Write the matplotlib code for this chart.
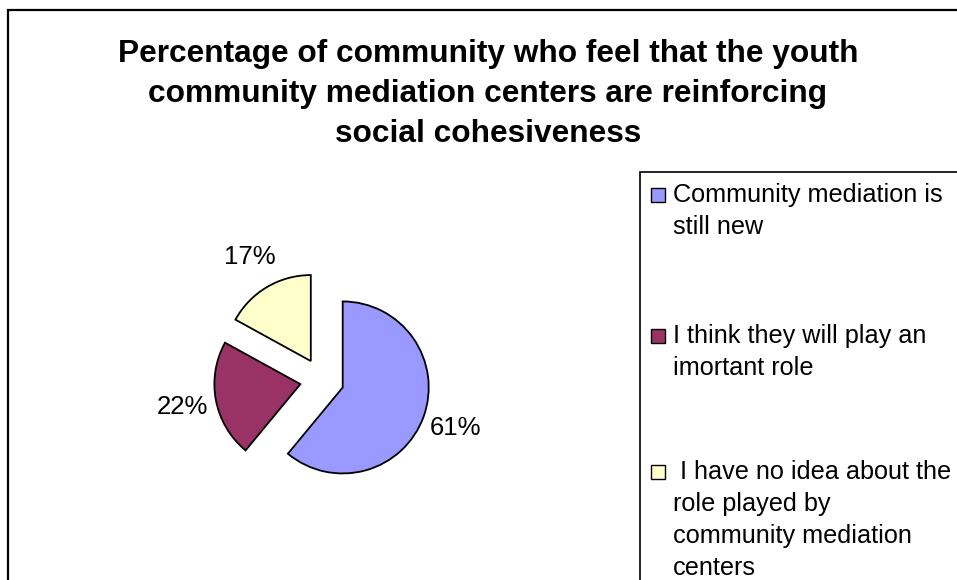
import matplotlib
matplotlib.use("Agg")
import matplotlib.pyplot as plt
from matplotlib.patches import Rectangle

plt.rcParams["font.family"] = ["Liberation Sans", "DejaVu Sans"]

# ---- data ----
categories = [
    "Community mediation is\nstill new",
    "I think they will play an\nimortant role",
    " I have no idea about the\nrole played by\ncommunity mediation\ncenters",
]
shares = [61, 22, 17]
colors = ["#9999FF", "#993366", "#FFFFCC"]
title_lines = [
    "Percentage of community who feel that the youth",
    "community mediation centers are reinforcing",
    "social cohesiveness",
]

W, H = 957, 580
fig = plt.figure(figsize=(W / 100, H / 100), dpi=100)
fig.patch.set_facecolor("white")

# one axes spanning the whole figure, in pixel units (y measured upward)
ax = fig.add_axes([0, 0, 1, 1])


def up(y_down):
    return H - y_down


pie_cx, pie_cy, pie_r = 322, 380, 86
wedges, _, autotexts = ax.pie(
    shares,
    colors=colors,
    startangle=90,
    counterclock=False,
    radius=pie_r,
    center=(pie_cx, up(pie_cy)),
    explode=[22] * len(shares),
    autopct="%1.0f%%",
    pctdistance=1.4,
    wedgeprops=dict(edgecolor="black", linewidth=1.3),
    textprops=dict(fontsize=18.5, color="black"),
)
ax.set_xlim(0, W)
ax.set_ylim(0, H)
ax.set_aspect("equal")
ax.axis("off")

# outer chart border (runs off the right and bottom edges)
ax.add_patch(Rectangle((8, -20), W + 20, up(10) + 20, fill=False,
                       edgecolor="black", linewidth=1.6, clip_on=False))

# title
for i, line in enumerate(title_lines):
    ax.text(488, up(62 + 40 * i), line, ha="center", va="baseline",
            fontsize=22.8, fontweight="bold", color="black")

# legend box (also runs off the edges)
ax.add_patch(Rectangle((640, -20), W, up(172) + 20, fill=False,
                       edgecolor="black", linewidth=1.2, clip_on=False))

entry_tops = [195, 336, 472]
line_step = 32
for wedge, label, yc in zip(wedges, categories, entry_tops):
    ax.add_patch(Rectangle((651, up(yc + 7)), 14, 14,
                           facecolor=wedge.get_facecolor(),
                           edgecolor="black", linewidth=1.0))
    for j, txt in enumerate(label.split("\n")):
        ax.text(673, up(yc + 7 + j * line_step), txt, ha="left",
                va="baseline", fontsize=18.2, color="black")

fig.savefig("out.png", dpi=100, facecolor="white")
